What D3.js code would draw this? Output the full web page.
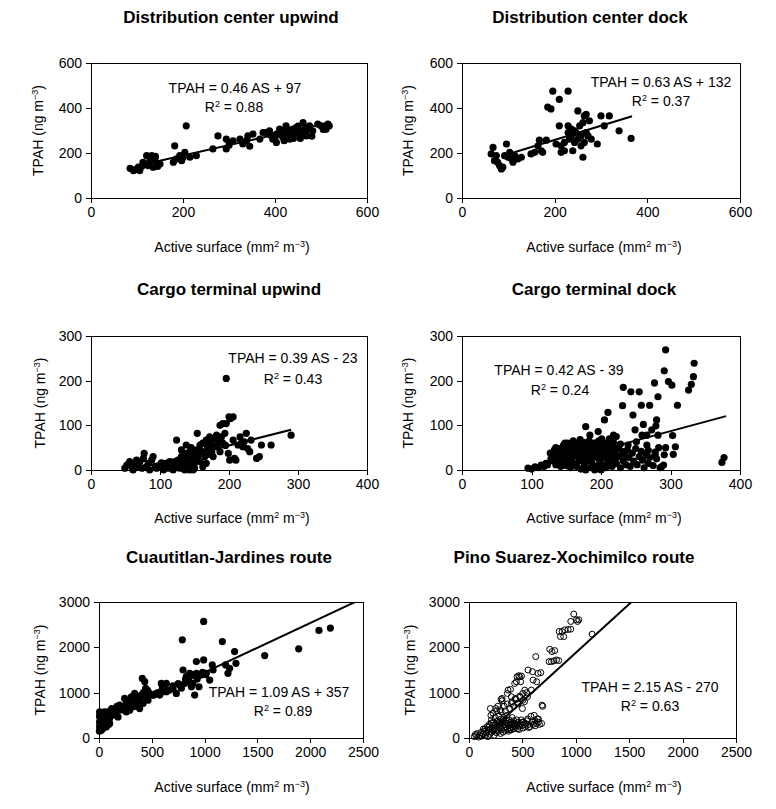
<!DOCTYPE html>
<html><head><meta charset="utf-8">
<script src="https://cdn.jsdelivr.net/npm/d3@7/dist/d3.min.js"></script>
<style>body{margin:0;background:#fff} text{font-family:"Liberation Sans",Arial,sans-serif;fill:#000}</style>
</head><body><svg id="c" width="776" height="809"></svg>
<script>
// ---------- DATA ----------
const titles = ["Distribution center upwind","Distribution center dock","Cargo terminal upwind","Cargo terminal dock","Cuautitlan-Jardines route","Pino Suarez-Xochimilco route"];
const equations = ["TPAH = 0.46 AS + 97","TPAH = 0.63 AS + 132","TPAH = 0.39 AS - 23","TPAH = 0.42 AS - 39","TPAH = 1.09 AS + 357","TPAH = 2.15 AS - 270"];
const r2Values = ["0.88","0.37","0.43","0.24","0.89","0.63"];
const slopes = [0.46,0.63,0.39,0.42,1.09,2.15];
const intercepts = [97,132,-23,-39,357,-270];
const lineRanges = [[99,518],[106,367],[60,290],[95,380],[0,2500],[50,2500]];
const xTicks = [[0,200,400,600],[0,200,400,600],[0,100,200,300,400],[0,100,200,300,400],[0,500,1000,1500,2000,2500],[0,500,1000,1500,2000,2500]];
const yTicks = [[0,200,400,600],[0,200,400,600],[0,100,200,300],[0,100,200,300],[0,1000,2000,3000],[0,1000,2000,3000]];

const dcUpwind = [[85,132],[92,122],[99,129],[103,137],[106,122],[113,159],[121,188],[124,144],[132,188],[135,137],[139,174],[142,144],[150,151],
[110,140],[118,150],[128,165],[145,140],[95,125],[140,185],
[179,159],[182,232],[186,174],[193,188],[197,166],[204,203],[207,321],[215,181],[229,188],[200,180],
[265,218],[276,276],[294,262],[294,218],[301,247],[309,254],[324,262],[338,254],[341,276],[352,284],[367,262],[374,291],[381,291],[300,235],[330,240],[345,230],
[388,299],[395,262],[403,284],[410,306],[417,291],[424,321],[432,299],[439,276],[446,313],[453,284],[461,335],[464,306],[468,276],[475,321],[482,299],[493,328],[500,321],[508,313],[515,328],[518,321],[511,306],[410,284],[424,299],[439,306],[453,299],[432,262],[468,299],[417,270],[403,247],[400,270],[420,255],[445,290],[455,265],[470,310],[390,280],[430,285],[460,290],[480,275],[505,305],[440,265],[425,310],[415,300],[450,320]];

const dcDock = [[63,196],[67,225],[70,166],[74,188],[77,159],[81,144],[85,129],[88,137],[92,188],[96,240],[99,181],[103,203],[106,174],[110,159],[114,188],[121,174],[128,181],
[149,196],[157,203],[164,232],[167,257],[171,210],[174,203],[182,257],[185,404],[192,396],[196,475],[203,240],[210,321],[210,438],[214,232],[214,203],[221,210],[229,475],[229,321],[232,262],[236,306],[239,210],[243,247],[246,291],[250,387],[254,321],[257,276],[261,335],[264,365],[268,372],[264,247],[261,181],[272,276],[275,343],[279,262],[268,291],[257,232],[250,262],[243,299],[236,276],[229,291],[221,247],[292,240],[300,365],[307,321],[318,365],[339,299],[365,265]];

const ctUpwind = [[49,4],[52,11],[56,19],[59,7],[61,0],[64,15],[66,22],[69,7],[71,19],[74,4],[76,26],[77,37],[80,7],[83,15],[85,0],[88,22],[90,30],[93,7],[95,4],[100,11],[102,16],[105,0],[107,7],[109,15],[112,4],[114,19],[116,7],[119,0],[121,15],[124,67],[124,7],[126,22],[129,4],[131,30],[131,45],[133,15],[136,37],[138,56],[138,7],[141,30],[143,41],[143,0],[146,22],[148,34],[150,15],[153,45],[154,82],[155,30],[158,56],[160,41],[162,60],[165,30],[167,67],[170,45],[172,74],[174,60],[177,52],[179,71],[182,78],[184,60],[187,100],[189,74],[191,104],[194,82],[196,205],[196,104],[199,37],[200,119],[202,115],[206,119],[201,22],[206,67],[208,26],[210,22],[213,56],[216,74],[218,60],[220,52],[222,63],[225,82],[227,48],[230,41],[232,67],[240,26],[244,30],[247,56],[261,56],[290,78],
[141,15],[146,7],[150,4],[158,19],[162,7],[167,15],[177,30],[187,41],[148,0],[136,0],[162,41],[182,52],[191,60],[128,10],[134,25],[145,50],[152,20],[168,55],[175,40],[185,65],[195,55],[172,35]];

const ctDock = [[293,269],[334,239],[291,222],[333,209],[297,198],[302,190],[330,192],[326,179],[232,185],[243,175],[255,175],[277,195],[282,164],[231,144],[258,145],[270,145],[310,145],[210,129],[205,112],[246,123],[261,102],[280,112],[279,99],[249,90],[273,90],[282,78],[303,77],[266,78],[259,78],[178,97],[184,78],[196,86],[218,78],[283,50],[293,50],[307,52],[291,34],[304,35],[287,7],[290,11],[374,17],[377,28],[239,56],[251,63],[266,56],[268,44],[278,34],
[95,4],[105,7],[114,11],[121,15],[100,2],[110,5],
[127,38],[130,30],[132,20],[133,45],[135,12],[137,35],[140,25],[140,48],[142,8],[143,40],[145,18],[146,55],[148,30],[150,45],[150,10],[152,60],[153,22],[155,38],[156,5],[157,50],[158,28],[160,65],[160,15],[162,42],[163,55],[165,32],[165,8],[167,60],[168,20],[170,45],[170,68],[171,2],[172,35],[173,55],[175,25],[175,62],[176,12],[178,48],[178,0],[180,38],[180,58],[181,20],[183,30],[183,65],[185,50],[185,5],[187,15],[188,42],[190,60],[190,28],[191,0],[192,52],[193,35],[195,10],[195,45],[197,65],[198,22],[199,55],[200,0],[200,38],[201,70],[202,12],[203,48],[205,28],[205,60],[207,5],[208,40],[210,18],[210,55],[212,70],[213,30],[215,45],[216,8],[218,62],[219,25],[220,38],[222,75],[222,15],[225,50],[226,30],[228,5],[230,42],[232,20],[234,35],[236,12],[238,45],[240,28],[242,8],[245,38],[247,20],[250,48],[252,12],[255,30],[258,42],[260,22],[262,5],[265,35],[268,15],[270,28],[275,10],[278,40],[280,25],[285,5],[135,50],[145,28],[155,15],[165,48],[175,40],[185,30],[195,62],[205,40],[215,20],[188,8],[168,38],[148,60],[158,44],[178,30],[198,30],[218,50],[228,58],[138,15],[128,25],[123,12],[118,8]];

const cjRoute = [[6,576],[6,465],[6,355],[6,244],[22,170],[22,539],[38,429],[38,318],[38,207],[54,576],[54,392],[69,465],[69,244],[85,355],[85,576],[101,318],[101,429],[133,502],[148,613],[180,465],[196,724],[227,687],[243,872],[259,576],[275,761],[290,613],[306,909],[322,687],[338,983],[354,761],[369,835],[385,650],[401,946],[410,1315],[417,761],[433,1242],[442,1094],[448,909],[464,835],[480,983],[511,946],[543,983],[575,946],[606,1020],[590,1204],[638,1020],[638,1204],[669,1057],[701,1094],[732,983],[764,1167],[789,2165],[796,1500],[811,1204],[827,1352],[859,1426],[875,1130],[890,1204],[906,946],[922,1426],[922,1685],[947,1130],[969,1389],[991,2571],[991,1722],[1016,1426],[1048,1278],[1073,1611],[1168,2128],[1199,1611],[1221,1426],[1237,1537],[1284,1906],[1297,1648],[1569,1818],[1891,1966],[2083,2372],[2191,2424],
[10,300],[15,420],[30,520],[45,350],[60,480],[75,400],[90,300],[110,520],[120,650],[150,560],[170,700],[210,620],[240,700],[260,800],[280,650],[300,760],[330,820],[350,700],[370,900],[390,850],[420,1000],[460,1050],[520,950],[560,1000],[600,1100],[650,1050],[700,1150],[750,1200],[780,1100],[820,1300],[850,1250],[880,1400],[930,1300],[980,1450],[1010,1400],[1080,1500],
[4,150],[12,200],[25,260],[50,290],[20,380],[65,540],[95,470],[8,520]];

const psxRoute = [[981,2734],[953,2571],[1006,2608],[1028,2608],[1016,2571],[1153,2290],[844,2349],[872,2349],[897,2386],[856,2238],[887,2238],[928,2394],[953,2401],
[756,1958],[778,1906],[803,1928],[625,1796],[750,1685],[772,1685],[794,1700],[819,1722],[840,1707],[553,1500],[594,1463],[647,1426],[672,1441],[600,1278],[634,1241],[450,1352],[466,1374],[475,1352],[491,1367],[428,1204],[444,1241],[484,1241],[366,1057],[388,1071],[309,872],[359,983],[397,909],[434,872],[475,924],[503,983],[522,1057],[397,761],[459,776],[506,835],[547,909],[584,1057],[684,724],
[50,30],[60,80],[70,50],[80,100],[90,20],[100,60],[110,120],[120,40],[130,90],[140,150],[150,200],[155,60],[160,110],[170,250],[175,30],[180,170],[190,300],[195,80],[200,200],[200,650],[205,500],[210,400],[215,130],[220,280],[225,550],[230,350],[235,60],[240,200],[245,450],[250,300],[255,120],[260,600],[265,250],[270,380],[275,150],[280,480],[285,220],[290,320],[295,100],[300,420],[300,580],[305,180],[310,260],[315,350],[320,130],[325,450],[330,230],[335,300],[340,170],[345,380],[350,250],[355,500],[360,200],[365,320],[370,150],[375,400],[380,280],[385,220],[390,350],[395,180],[400,300],[405,450],[410,250],[415,200],[420,380],[425,280],[430,320],[440,230],[445,400],[450,300],[455,200],[460,350],[470,260],[480,320],[490,400],[500,280],[505,220],[510,350],[520,300],[530,250],[540,380],[550,420],[560,300],[570,250],[580,480],[590,350],[600,300],[610,500],[620,380],[630,320],[640,420],[650,350],[660,300],[680,320],[690,700],
[250,650],[270,700],[290,620],[310,820],[330,700],[340,600],[360,750],[380,650],[400,800],[420,700],[440,850],[460,750],[480,900],[500,650],[520,800],[540,1000],[300,850],
[135,200],[165,180],[185,240],[210,330],[230,160],[260,180],[280,340],[320,400],[350,330],[380,180],[410,330],[440,280],[470,190],[500,350],[530,320],[560,230],[620,270],[650,420]];

const datasets = [dcUpwind, dcDock, ctUpwind, ctDock, cjRoute, psxRoute];
const openMarkers = [false,false,false,false,false,true];

// ---------- LAYOUT ----------
const boxes = [
 {l:91,r:367,t:63,b:198, ttl:[231,23], eq:[235,93], r2:[234,112], xt:[232,252], yt:[38]},
 {l:462,r:740,t:63,b:198, ttl:[590,23], eq:[661,87], r2:[661,106], xt:[604,252], yt:[408]},
 {l:91,r:367,t:336,b:470, ttl:[229,295], eq:[293,363], r2:[293,384], xt:[232,523], yt:[40]},
 {l:462,r:740,t:336,b:470, ttl:[594,295], eq:[559,375], r2:[560,395], xt:[604,523], yt:[408]},
 {l:99,r:363,t:602,b:738, ttl:[229,563], eq:[279,697], r2:[283,716], xt:[232,792], yt:[40]},
 {l:469,r:736,t:602,b:738, ttl:[574,563], eq:[650,692], r2:[650,711], xt:[604,792], yt:[410]}
];

const svg = d3.select("#c");
const defs = svg.append("defs");

datasets.forEach((data,i)=>{
  const b = boxes[i];
  const xd = xTicks[i], yd = yTicks[i];
  const x = d3.scaleLinear().domain([xd[0], xd[xd.length-1]]).range([b.l,b.r]);
  const y = d3.scaleLinear().domain([yd[0], yd[yd.length-1]]).range([b.b,b.t]);
  const g = svg.append("g");

  defs.append("clipPath").attr("id","clip"+i).append("rect")
    .attr("x",b.l).attr("y",b.t).attr("width",b.r-b.l).attr("height",b.b-b.t);

  g.append("rect").attr("x",b.l).attr("y",b.t).attr("width",b.r-b.l).attr("height",b.b-b.t)
    .attr("fill","none").attr("stroke","#000").attr("stroke-width",1).attr("shape-rendering","crispEdges");

  const ax = g.append("g").attr("transform",`translate(0,${b.b})`)
    .call(d3.axisBottom(x).tickValues(xd).tickSize(5).tickPadding(4).tickFormat(d3.format("d")));
  const ay = g.append("g").attr("transform",`translate(${b.l},0)`)
    .call(d3.axisLeft(y).tickValues(yd).tickSize(5).tickPadding(4).tickFormat(d3.format("d")));
  [ax,ay].forEach(a=>{
    a.select(".domain").attr("stroke","#000").attr("shape-rendering","crispEdges");
    a.selectAll(".tick line").attr("stroke","#000").attr("shape-rendering","crispEdges");
    a.selectAll(".tick text").attr("font-size",14).attr("font-family","Liberation Sans, Arial, sans-serif").attr("fill","#000");
  });

  const pts = g.append("g");
  pts.selectAll("circle").data(data).join("circle")
    .attr("cx",d=>x(d[0])).attr("cy",d=>y(d[1]))
    .attr("r", openMarkers[i] ? 3 : 3.6)
    .attr("fill", openMarkers[i] ? "none" : "#000")
    .attr("stroke","#000").attr("stroke-width", openMarkers[i] ? 1 : 0);

  const lr = lineRanges[i];
  const lineData = lr.map(v=>[v, slopes[i]*v+intercepts[i]]);
  g.append("path").datum(lineData)
    .attr("clip-path",`url(#clip${i})`)
    .attr("d", d3.line().x(d=>x(d[0])).y(d=>y(d[1])))
    .attr("fill","none").attr("stroke","#000").attr("stroke-width",2);

  g.append("text").attr("x",b.ttl[0]).attr("y",b.ttl[1]).attr("text-anchor","middle")
    .attr("font-size",17).attr("font-weight","bold").text(titles[i]);

  g.append("text").attr("x",b.eq[0]).attr("y",b.eq[1]).attr("text-anchor","middle")
    .attr("font-size",14).text(equations[i]);
  const r2t = g.append("text").attr("x",b.r2[0]).attr("y",b.r2[1]).attr("text-anchor","middle").attr("font-size",14);
  r2t.append("tspan").text("R");
  r2t.append("tspan").attr("font-size",9).attr("dy",-5).text("2");
  r2t.append("tspan").attr("dy",5).text(" = " + r2Values[i]);

  const xt = g.append("text").attr("x",b.xt[0]).attr("y",b.xt[1]).attr("text-anchor","middle").attr("font-size",14);
  xt.append("tspan").text("Active surface (mm");
  xt.append("tspan").attr("font-size",9).attr("dy",-5).text("2");
  xt.append("tspan").attr("dy",5).text(" m");
  xt.append("tspan").attr("font-size",9).attr("dy",-5).text("\u22123");
  xt.append("tspan").attr("dy",5).text(")");

  const cy = (b.t+b.b)/2;
  const yt = g.append("text").attr("transform",`translate(${b.yt[0]+5},${cy}) rotate(-90)`)
    .attr("text-anchor","middle").attr("font-size",14);
  yt.append("tspan").text("TPAH (ng m");
  yt.append("tspan").attr("font-size",9).attr("dy",-5).text("\u22123");
  yt.append("tspan").attr("dy",5).text(")");
});
</script></body></html>
